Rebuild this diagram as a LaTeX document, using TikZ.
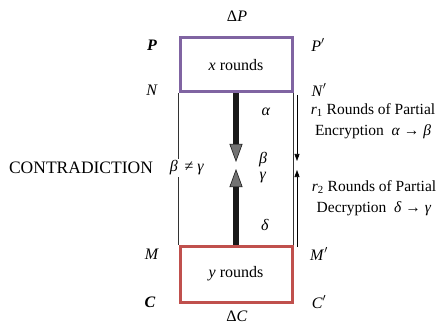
\documentclass[tikz,border=0pt]{standalone}
\usepackage{fontspec}
\setmainfont{Liberation Serif}
\usetikzlibrary{arrows.meta,positioning}
\definecolor{cenc}{RGB}{128,100,162}
\definecolor{cdec}{RGB}{192,80,77}
\tikzset{
  roundbox/.style={draw, line width=3pt, minimum width=112pt, minimum height=54pt, inner sep=0pt},
  lbl/.style={font=\fontsize{16}{18}\selectfont, inner sep=1pt},
  flow/.style={line width=5.5pt, draw=black!90, -{Triangle[length=18pt,width=13pt,fill=black!55,line width=0.6pt]}},
  thinline/.style={line width=0.6pt, draw=black!80},
  thinarrow/.style={line width=0.6pt, -{Triangle[length=7pt,width=5pt]}},
}
\begin{document}
\begin{tikzpicture}[x=1pt,y=-1pt]
    \useasboundingbox (0,0) rectangle (439,326);
    % the two round blocks
    \node[roundbox, draw=cenc, lbl] (xbox) at (236,65) {\textit{x} rounds};
    \node[roundbox, draw=cdec, lbl, minimum height=56pt] (ybox) at (236,274) {\textit{y} rounds};
    % side lines
    \draw[thinline] (xbox.south west) -- (ybox.north west);
    \draw[thinline] (xbox.south east) -- (ybox.north east);
    \coordinate (encs) at (297,95);
    \coordinate (ence) at (297,161);
    \coordinate (decs) at (297,247);
    \coordinate (dece) at (297,170);
    \draw[thinarrow] (encs) -- (ence);
    \draw[thinarrow] (decs) -- (dece);
    % thick arrows meeting in the middle
    \coordinate (beta) at (236,162);
    \coordinate (gamma) at (236,169);
    \draw[flow] (xbox.south) -- (beta);
    \draw[flow] (ybox.north) -- (gamma);
    % corner labels
    \node[lbl] (dp) at (237,16) {Δ\textit{P}};
    \node[lbl] (p) at (152,45) {\textbf{\textit{P}}};
    \node[lbl] (pp) at (318,45) {\textit{P}$'$};
    \node[lbl] (n) at (152,90) {\textit{N}};
    \node[lbl] (np) at (319,90) {\textit{N}$'$};
    \node[lbl] (m) at (152,254) {\textit{M}};
    \node[lbl] (mp) at (319,254) {\textit{M}$'$};
    \node[lbl] (c) at (150,302) {\textbf{\textit{C}}};
    \node[lbl] (cp) at (319,302) {\textit{C}$'$};
    \node[lbl] (dc) at (237,316) {Δ\textit{C}};
    % values between the blocks
    \node[lbl] (la) at (266,112) {\textit{α}};
    \node[lbl] (lb) at (263,160) {\textit{β}};
    \node[lbl] (lg) at (263,178) {\textit{γ}};
    \node[lbl] (ld) at (265,225) {\textit{δ}};
    \node[lbl, font=\fontsize{17.5}{20}\selectfont] (contra) at (81,168) {CONTRADICTION};
    \node[lbl, fill=white, inner sep=2pt] (neq) at (187,168) {\textit{β}\ \,≠\ \textit{γ}};
    % partial rounds
    \node[lbl, font=\fontsize{15.5}{21}\selectfont, align=center] (enc) at (373,121) {\textit{r}\textsubscript{1} Rounds of Partial\\Encryption \ \textit{α} → \textit{β}};
    \node[lbl, font=\fontsize{15.5}{21}\selectfont, align=center] (dec) at (374,198) {\textit{r}\textsubscript{2} Rounds of Partial\\Decryption \ \textit{δ} → \textit{γ}};
\end{tikzpicture}
\end{document}
